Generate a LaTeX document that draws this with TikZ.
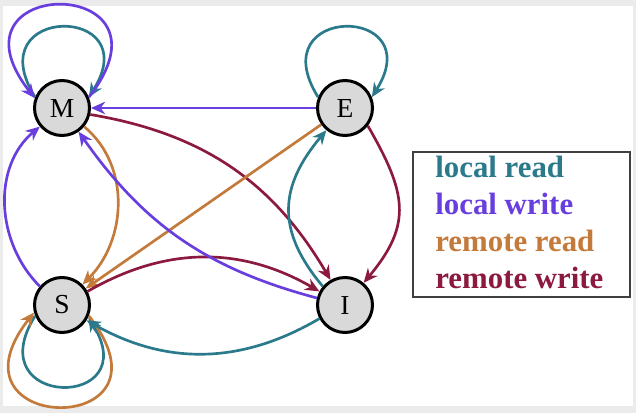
\documentclass[tikz,border=0pt]{standalone}
\usepackage{fontspec}
\setmainfont{Liberation Serif}
\usetikzlibrary{arrows.meta}
\definecolor{lrcol}{RGB}{42,122,140}
\definecolor{lwcol}{RGB}{104,62,222}
\definecolor{rrcol}{RGB}{196,122,58}
\definecolor{rwcol}{RGB}{140,26,62}

\begin{document}
\begin{tikzpicture}[x=0.6pt,y=0.6pt,
		lread/.style={draw=lrcol},
		lwrite/.style={draw=lwcol},
		rread/.style={draw=rrcol},
		rwrite/.style={draw=rwcol}]
		\useasboundingbox (0,0) rectangle (636,413);
		\fill[black!8] (0,0) rectangle (636,413);
		\fill[white] (3,7) rectangle (633,407);

		\begin{scope}[every node/.style={circle,draw,line width=1.8pt,fill=gray!30,
				minimum size=33pt,inner sep=0pt,font=\fontsize{16.5}{18}\selectfont}]
			\node (M) at (62,305) {M};
			\node (E) at (345,305) {E};
			\node (S) at (62,108) {S};
			\node (I) at (345,108) {I};
		\end{scope}

		\begin{scope}[>={Stealth[length=8.5pt,width=7.5pt]},
					  every edge/.style={draw,line width=1.6pt}]
			% loops
			\path [->] (M.158) edge[lread,out=122,in=58,distance=66pt] (M.22);
			\path [->] (M.22) edge[lwrite,out=52,in=128,distance=94pt] (M.160);
			\path [->] (E.158) edge[lread,out=122,in=58,distance=66pt] (E.22);
			\path [->] (S.-158) edge[lread,out=-122,in=-58,distance=66pt] (S.-25);
			\path [->] (S.-22) edge[rread,out=-52,in=-128,distance=94pt] (S.-165);

			\path [->] (E) edge[lwrite] (M);
			\path [->] (M.-40) edge[rread,out=-40,in=45] (S.45);
			\path [->] (S.140) edge[lwrite,out=135,in=-140] (M.220);
			\path [->] (M.-13) edge[rwrite,bend left=25] (I.120);

			\path [->] (E) edge[rread] (S);
			\path [->] (I.140) edge[lread,out=130,in=-130,looseness=1.2] (E.230);
			\path [->] (E.-38) edge[rwrite,out=-60,in=50,looseness=1.25] (I.50);

			\path [->] (S.28) edge[rwrite,bend left=30] (I.152);
			\path [->] (I.208) edge[lread,bend left=30] (S.-32);
			\path [->] (I.166) edge[lwrite,bend left=20] (M.-55);
		\end{scope}

		% legend
		\node[draw=black!75,line width=1.2pt,minimum width=130.2pt,minimum height=87pt] (legend) at (521.5,188.5) {};
		\begin{scope}[every node/.style={anchor=base west,inner sep=0pt,font=\fontsize{18.5}{22}\selectfont\bfseries}]
			\node[text=lrcol] (lr) at (435,236) {local read};
			\node[text=lwcol] (lw) at (435,199) {local write};
			\node[text=rrcol] (rr) at (435,162) {remote read};
			\node[text=rwcol] (rw) at (435,125) {remote write};
		\end{scope}
\end{tikzpicture}
\end{document}
